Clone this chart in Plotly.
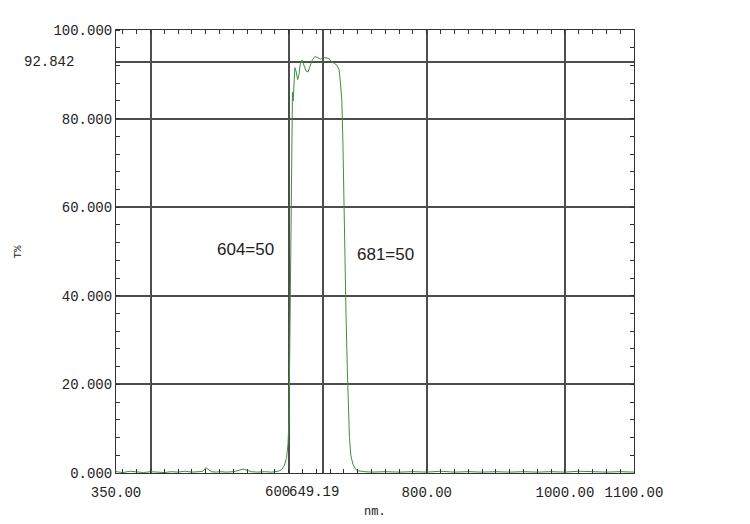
import plotly.graph_objects as go

# ---- data ----
wavelength_nm = [350, 360, 370, 380, 390, 400, 410, 420, 430, 440, 450, 460, 470, 476, 480, 484, 488,
                 495, 500, 510, 520, 528, 534, 540, 546, 555, 565, 575, 585, 590, 594, 597, 599,
                 600.5, 601.5, 602.5, 603.5, 604.5, 605.5, 606.5, 607.5, 609, 611, 613, 615, 617,
                 619.5, 622, 625, 628, 631, 634, 638, 642, 646, 650, 654, 658, 662, 666, 670, 673,
                 675, 677, 678.5, 680, 681, 683, 685, 686.6, 688, 690, 693, 697, 700, 710, 720, 740,
                 760, 780, 800, 820, 840, 860, 880, 900, 920, 940, 960, 980, 1000, 1020, 1040, 1060,
                 1080, 1100]
transmittance = [0.3, 0.1, 0.4, 0.2, 0.1, 0.3, 0.2, 0.1, 0.3, 0.2, 0.4, 0.2, 0.3, 0.4, 1.2, 0.8, 0.3,
                 0.2, 0.3, 0.2, 0.3, 0.6, 0.9, 0.6, 0.3, 0.2, 0.3, 0.2, 0.4, 0.8, 1.8, 3.5, 6.5,
                 12, 30, 48, 68, 82, 86, 84, 88, 91.5, 90.5, 88.8, 90, 92.5,
                 93.2, 92.2, 90.8, 90.5, 92, 93.2, 94, 93.8, 93.4, 93.8, 93.7, 93.6, 92.8, 92.5, 92.0, 91,
                 88, 84, 75, 60, 50, 36, 23, 14, 8, 4, 2, 0.8, 0.5, 0.3, 0.2, 0.3,
                 0.2, 0.3, 0.2, 0.4, 0.2, 0.3, 0.2, 0.3, 0.2, 0.3, 0.2, 0.3, 0.2, 0.4, 0.3, 0.2,
                 0.3, 0.2]

x_tickvals = [350, 400, 600, 649.19, 800, 1000, 1100]
x_ticktext = ["350.00", "", "", "", "800.00", "1000.00", "1100.00"]
x_close_labels = [(600, "600", "right"), (600, "649.19", "left")]
y_tickvals = [0, 20, 40, 60, 80, 92.842, 100]
y_ticktext = ["0.000", "20.000", "40.000", "60.000", "80.000", "", "100.000"]
marker_label = "92.842"
edge_labels = [(604, "604=50"), (681, "681=50")]
x_title = "nm."
y_title = "T%"

GRID = "#4d4d4d"
AX = "#333333"
FONT = "Liberation Mono"
TXT = "#222222"

fig = go.Figure()
fig.add_trace(go.Scatter(x=wavelength_nm, y=transmittance, mode="lines",
                         line=dict(color="#3f8f3f", width=1), showlegend=False,
                         hoverinfo="skip"))
# invisible trace on mirrored axes so top/right minor ticks are drawn
fig.add_trace(go.Scatter(x=[350, 1100], y=[0, 100], xaxis="x2", yaxis="y2",
                         mode="lines", line=dict(width=0), showlegend=False, hoverinfo="skip"))

fig.update_layout(
    width=750, height=524,
    margin=dict(l=108, r=124, t=22, b=59),
    paper_bgcolor="white", plot_bgcolor="white",
    font=dict(family=FONT, size=14, color=TXT),
    xaxis=dict(range=[350, 1100], tickmode="array", tickvals=x_tickvals, ticktext=x_ticktext,
               tickangle=0, automargin=False, ticklabelstandoff=6,
               showgrid=True, gridcolor=GRID, gridwidth=1.5, zeroline=False,
               showline=True, linecolor=AX, linewidth=1, ticks="", ticklen=0,
               tickfont=dict(family=FONT, size=14, color=TXT),
               minor=dict(tickmode="linear", tick0=0, dtick=20, ticks="inside", ticklen=4,
                          tickcolor=AX, showgrid=False)),
    yaxis=dict(range=[0, 100], tickmode="array", tickvals=y_tickvals, ticktext=y_ticktext,
               automargin=False,
               showgrid=True, gridcolor=GRID, gridwidth=1.5, zeroline=False,
               showline=True, linecolor=AX, linewidth=1, ticks="", ticklen=0,
               tickfont=dict(family=FONT, size=14, color=TXT),
               minor=dict(tickmode="linear", tick0=0, dtick=4, ticks="inside", ticklen=4,
                          tickcolor=AX, showgrid=False)),
    xaxis2=dict(range=[350, 1100], overlaying="x", side="top", showticklabels=False,
                automargin=False,
                showgrid=False, zeroline=False, showline=True, linecolor=AX, linewidth=1,
                tickmode="linear", tick0=0, dtick=20, ticks="inside", ticklen=4, tickcolor=AX),
    yaxis2=dict(range=[0, 100], overlaying="y", side="right", showticklabels=False,
                automargin=False,
                showgrid=False, zeroline=False, showline=True, linecolor=AX, linewidth=1,
                tickmode="linear", tick0=0, dtick=4, ticks="inside", ticklen=4, tickcolor=AX),
)

for xv, txt, anchor in x_close_labels:
    fig.add_annotation(x=xv, xref="x", y=0, yref="paper", yanchor="top", yshift=-9,
                       xanchor=anchor, xshift=(3 if anchor == "right" else -2),
                       text=txt, showarrow=False, font=dict(family=FONT, size=14, color=TXT))

fig.add_annotation(x=0, xref="paper", xanchor="right", xshift=-40, y=92.842, yref="y",
                   text=marker_label, showarrow=False,
                   font=dict(family=FONT, size=14, color=TXT))
fig.add_annotation(x=edge_labels[0][0], y=50.5, xref="x", yref="y", xanchor="right", xshift=-15,
                   text=edge_labels[0][1], showarrow=False,
                   font=dict(family="Liberation Sans", size=17, color=TXT))
fig.add_annotation(x=edge_labels[1][0], y=49.3, xref="x", yref="y", xanchor="left", xshift=10,
                   text=edge_labels[1][1], showarrow=False,
                   font=dict(family="Liberation Sans", size=17, color=TXT))
fig.add_annotation(x=0.5, xref="paper", y=0, yref="paper", yshift=-39, yanchor="middle",
                   xanchor="center",
                   text=x_title, showarrow=False, font=dict(family=FONT, size=12, color=TXT))
fig.add_annotation(x=0, xref="paper", xshift=-99, xanchor="center", y=0.5, yref="paper",
                   textangle=-90, yanchor="middle",
                   text=y_title, showarrow=False, font=dict(family=FONT, size=11, color=TXT))

fig.write_html("out.html")
